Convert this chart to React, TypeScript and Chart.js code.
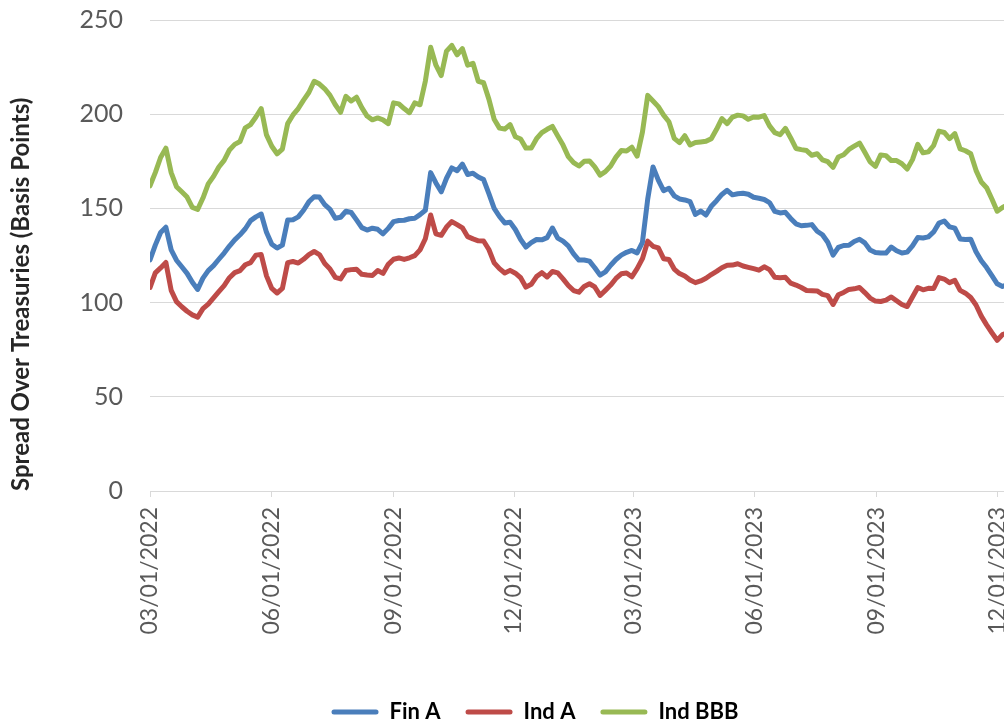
import { useEffect, useRef } from 'react';
import { Chart, registerables } from 'chart.js';

Chart.register(...registerables);

// Observations are sampled every STEP_DAYS days starting on START_DATE.
const START_DATE = Date.UTC(2022, 2, 1);
const STEP_DAYS = 4;

const SERIES_NAMES = ['Fin A', 'Ind A', 'Ind BBB'];
const SERIES_COLORS = ['#4a7ebb', '#be4b48', '#98b954'];

const FIN_A = [
  122.6, 130.5, 137.2, 140, 128, 122.5, 119, 115.5, 110.8, 107,
  113, 117, 119.6, 123, 126.3, 130, 133.3, 136, 139.2, 143.5,
  145.5, 147, 137.3, 131, 129, 130.5, 143.8, 144, 145.5, 149,
  153.5, 156.2, 156, 152, 149.5, 144.8, 145.3, 148.5, 147.8, 143.9,
  139.8, 138.5, 139.5, 138.9, 136.5, 139.4, 143, 143.6, 143.7, 144.5,
  144.8, 146.7, 149, 169, 163.5, 158.8, 166, 171.5, 170, 173.5,
  168, 168.7, 166.7, 165.3, 157.8, 150, 145.7, 142.3, 142.7, 138.8,
  133.5, 129.5, 131.8, 133.5, 133.3, 134.5, 139.6, 134.2, 132.6, 130.1,
  125.9, 122.6, 122.6, 122, 118.5, 114.6, 116.3, 119.8, 122.9, 125.2,
  126.7, 127.7, 126.4, 132, 155, 172, 165, 159.4, 160.7, 156.7,
  155, 154.5, 153.6, 146.8, 148.6, 146.5, 151.1, 154.1, 157.4, 159.6,
  157.2, 157.8, 158, 157.5, 155.9, 155.4, 154.7, 153.1, 148.4, 147.6,
  147.9, 144.7, 141.8, 140.8, 141, 141.4, 137.9, 136, 132, 125.2,
  129.3, 130.3, 130.4, 132.4, 133.6, 131.7, 127.9, 126.6, 126.3, 126.3,
  129.5, 127.5, 126.3, 126.8, 130.1, 134.5, 134.3, 134.9, 137.5, 142.2,
  143.3, 140.2, 139.5, 133.8, 133.5, 133.6, 127, 122.2, 118.6, 114.3,
  110, 108.6, 109.5,
];

const IND_A = [
  108, 115.8, 118.4, 121.3, 106.5, 100.5, 97.8, 95.4, 93.5, 92.3,
  96.8, 99.2, 102.5, 105.8, 109, 113.2, 115.9, 117, 120.1, 121.2,
  125.2, 125.5, 114.2, 107.5, 105.1, 107.5, 121.2, 121.8, 121, 123,
  125.5, 127.1, 125.5, 120.7, 117.8, 113.4, 112.6, 117, 117.5, 117.7,
  115, 114.6, 114.4, 117, 115.5, 120.3, 123, 123.7, 122.9, 123.8,
  124.9, 128, 133.9, 146.5, 136.5, 135.7, 140.1, 143, 141.4, 139.7,
  135, 133.8, 132.8, 132.7, 128.2, 121.1, 118, 115.7, 117.1, 115.6,
  113.2, 108.2, 109.7, 113.8, 115.9, 113.6, 116.5, 115.8, 112.6, 109.1,
  106.4, 105.5, 108.6, 110, 108.3, 103.8, 106.5, 109.3, 112.8, 115.3,
  115.7, 113.7, 118, 123.3, 132.6, 129.9, 129, 123.3, 122.9, 117.8,
  115.4, 114.1, 112, 110.6, 111.5, 112.9, 114.9, 116.6, 118.5, 119.8,
  119.9, 120.6, 119.4, 118.7, 118, 117.2, 119, 117.5, 113.4, 113.2,
  113.4, 110.3, 109.3, 108, 106.4, 106.3, 106.2, 104.4, 103.7, 99,
  104.2, 105.4, 107, 107.3, 108, 105.3, 102.4, 100.8, 100.6, 101.3,
  103, 101, 99, 97.9, 103, 108, 106.8, 107.6, 107.5, 113.3,
  112.5, 110.6, 111.8, 106.5, 105, 102.7, 98.7, 92.8, 88.2, 84,
  80, 83, 84,
];

const IND_BBB = [
  162, 169, 177, 182, 169, 161.5, 158.8, 156, 150.5, 149.5,
  155.5, 163, 167, 172, 175.5, 181, 184, 185.5, 192.8, 194.5,
  198.5, 203, 189, 183, 179, 181.5, 195, 199.6, 203, 207.5,
  211.5, 217.5, 216, 213.5, 210, 205, 201, 209.5, 207, 209,
  203.5, 199, 197, 198, 197, 195, 206, 205.5, 203, 200.8,
  206, 205, 217.5, 235.5, 226, 220.5, 233.5, 236.5, 231.5, 234.8,
  226, 227, 217.5, 216.7, 208, 197.3, 192.6, 192.1, 194.5, 188,
  186.8, 182, 182, 187, 190.2, 192, 193.5, 188.5, 183.6, 177.5,
  174.3, 172.5, 175, 175.2, 172, 167.7, 169.5, 172.5, 177.2, 180.7,
  180.5, 182.5, 177.7, 190.5, 210, 207, 204, 199.5, 196, 187.2,
  184.9, 188.6, 183.7, 185, 185.3, 185.6, 187, 192, 197.7, 195,
  198.5, 199.5, 199.1, 197.3, 198.5, 198.4, 199.3, 193.8, 190.2, 189.1,
  192.5, 187.4, 181.8, 181.2, 180.7, 178.2, 179, 175.8, 174.8, 171.8,
  177.3, 178.5, 181.3, 183, 184.7, 179.8, 174.7, 172.3, 178.4, 178,
  175.4, 175.4, 173.7, 170.9, 175.9, 184, 179.5, 180, 183.4, 191,
  190.3, 187, 189.7, 181.6, 180.6, 179, 170.2, 164, 161, 155,
  148.5, 150.5, 152,
];

const X_TICK_LABELS = [
  '03/01/2022', '06/01/2022', '09/01/2022', '12/01/2022',
  '03/01/2023', '06/01/2023', '09/01/2023', '12/01/2023',
];
const X_AXIS_END = '01/25/2024';
const Y_TICKS = [0, 50, 100, 150, 200, 250];
const Y_TITLE = 'Spread Over Treasuries (Basis Points)';

const FONT_FAMILY = 'Lato, "Open Sans", sans-serif';
const DAY_MS = 86400000;

// mm/dd/yyyy -> whole days after START_DATE
function dayOf(label: string): number {
  const [m, d, y] = label.split('/').map(Number);
  return Math.round((Date.UTC(y, m - 1, d) - START_DATE) / DAY_MS);
}

const TICK_DAYS = X_TICK_LABELS.map(dayOf);

function toPoints(values: number[]) {
  return values.map((v, i) => ({ x: i * STEP_DAYS, y: v }));
}

export default function App() {
  const canvasRef = useRef<HTMLCanvasElement | null>(null);

  useEffect(() => {
    const canvas = canvasRef.current;
    if (!canvas) return;

    const seriesValues = [FIN_A, IND_A, IND_BBB];

    const chart = new Chart(canvas, {
      type: 'line',
      data: {
        datasets: SERIES_NAMES.map((name, k) => ({
          label: name,
          data: toPoints(seriesValues[k]),
          borderColor: SERIES_COLORS[k],
          backgroundColor: SERIES_COLORS[k],
          borderWidth: 5,
          pointRadius: 0,
          tension: 0,
          borderJoinStyle: 'round' as const,
          borderCapStyle: 'round' as const,
        })),
      },
      options: {
        animation: false,
        responsive: false,
        maintainAspectRatio: false,
        layout: { padding: { left: 0, top: 20, right: 0, bottom: 7 } },
        plugins: {
          tooltip: { enabled: false },
          legend: {
            position: 'bottom',
            labels: {
              boxWidth: 47,
              boxHeight: 5,
              padding: 25,
              color: '#262626',
              font: { family: FONT_FAMILY, size: 22, weight: 'bold' },
              useBorderRadius: true,
              borderRadius: 2.5,
              generateLabels: (c) =>
                c.data.datasets.map((ds, i) => ({
                  text: ds.label as string,
                  fillStyle: SERIES_COLORS[i],
                  strokeStyle: SERIES_COLORS[i],
                  lineWidth: 0,
                  hidden: false,
                  datasetIndex: i,
                  borderRadius: 2.5,
                })),
            },
          },
        },
        scales: {
          x: {
            type: 'linear',
            min: 0,
            max: dayOf(X_AXIS_END),
            afterBuildTicks: (scale) => {
              scale.ticks = TICK_DAYS.map((v) => ({ value: v }));
            },
            afterFit: (scale) => {
              scale.height = 185;
            },
            ticks: {
              autoSkip: false,
              minRotation: 90,
              maxRotation: 90,
              padding: 10,
              color: '#595959',
              font: { family: FONT_FAMILY, size: 23 },
              callback: (value) => {
                const idx = TICK_DAYS.indexOf(Number(value));
                return idx >= 0 ? X_TICK_LABELS[idx] : '';
              },
            },
            grid: {
              drawOnChartArea: false,
              drawTicks: true,
              tickLength: 6,
              color: '#d9d9d9',
            },
            border: { color: '#d9d9d9', width: 1 },
          },
          y: {
            min: 0,
            max: 250,
            afterBuildTicks: (scale) => {
              scale.ticks = Y_TICKS.map((v) => ({ value: v }));
            },
            afterFit: (scale) => {
              scale.width = 150;
            },
            ticks: {
              padding: 0,
              color: '#595959',
              font: { family: FONT_FAMILY, size: 25 },
            },
            // the invisible tick marks leave the gap between labels and plot
            grid: {
              color: '#d9d9d9',
              lineWidth: 1,
              drawTicks: true,
              tickLength: 27,
              tickColor: 'rgba(0,0,0,0)',
            },
            border: { display: false },
            title: {
              display: true,
              text: Y_TITLE,
              align: 'start',
              color: '#262626',
              font: { family: FONT_FAMILY, size: 24, weight: 'bold' },
              padding: { top: 7, bottom: 0 },
            },
          },
        },
      },
    });

    return () => chart.destroy();
  }, []);

  return (
    <div
      style={{
        position: 'fixed',
        left: 0,
        top: 0,
        width: 1004,
        height: 725,
        overflow: 'hidden',
        background: '#ffffff',
      }}
    >
      <canvas ref={canvasRef} width={1070} height={740} style={{ display: 'block' }} />
    </div>
  );
}
